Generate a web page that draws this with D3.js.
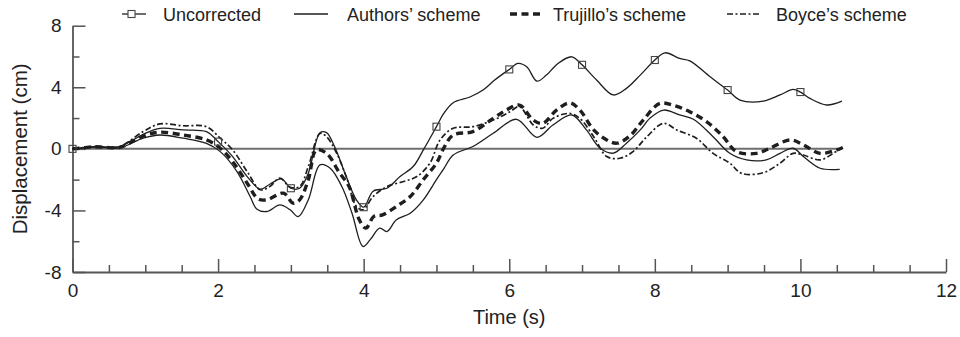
<!DOCTYPE html>
<html>
<head>
<meta charset="utf-8">
<script src="https://cdn.jsdelivr.net/npm/d3@7"></script>
<style>
  html, body { margin: 0; padding: 0; background: #fff; }
  svg { display: block; font-family: "Liberation Sans", Arial, Helvetica, sans-serif; }
</style>
</head>
<body>
<svg id="chart" width="960" height="337"></svg>
<script>
// Displacement time histories: [time (s), displacement (cm)]
const uncorrected = [
  [0,0],[0.15,0.08],[0.3,0.15],[0.45,0.12],[0.65,0.15],[0.8,0.5],[1.0,1.0],[1.2,1.33],[1.52,1.23],
  [1.84,1.12],[2.0,0.47],[2.2,-0.5],[2.4,-1.8],[2.58,-2.62],[2.71,-2.3],[2.87,-1.95],[3.0,-2.56],
  [3.12,-2.56],[3.24,-1.58],[3.4,1.05],[3.49,1.05],[3.6,0.15],[3.76,-1.8],[3.9,-3.31],[4.0,-3.79],
  [4.13,-2.75],[4.32,-2.56],[4.5,-1.8],[4.68,-1.15],[4.82,-0.07],[5.0,1.44],[5.1,2.3],[5.23,3.0],
  [5.46,3.37],[5.64,3.82],[5.8,4.47],[6.0,5.16],[6.12,5.55],[6.24,5.33],[6.38,4.4],[6.51,4.79],
  [6.67,5.55],[6.86,5.98],[7.0,5.46],[7.2,4.47],[7.43,3.5],[7.61,3.93],[7.8,4.79],[8.0,5.77],
  [8.14,6.24],[8.34,5.87],[8.48,5.72],[8.76,4.68],[9.0,3.82],[9.17,3.17],[9.49,3.1],[9.72,3.5],
  [9.9,3.86],[10.0,3.69],[10.13,3.28],[10.36,2.85],[10.57,3.1]
];
const authors = [
  [0,0],[0.15,0.06],[0.3,0.12],[0.45,0.08],[0.65,0.06],[0.97,0.69],[1.2,0.9],[1.52,0.69],[1.84,0.36],
  [2.03,-0.18],[2.26,-1.48],[2.44,-3.1],[2.53,-3.9],[2.67,-4.07],[2.85,-3.64],[2.99,-3.96],[3.1,-4.4],
  [3.24,-3.3],[3.4,-1.04],[3.54,-1.26],[3.7,-2.45],[3.84,-4.18],[3.99,-6.34],[4.09,-5.9],[4.22,-5.15],
  [4.32,-5.37],[4.45,-4.61],[4.64,-4.18],[4.82,-3.31],[5.0,-2.0],[5.1,-1.3],[5.23,-0.4],[5.5,0.15],
  [5.78,1.01],[6.1,1.92],[6.38,0.75],[6.6,1.55],[6.86,2.2],[7.06,1.23],[7.25,0.04],[7.43,-0.28],
  [7.61,0.37],[7.8,1.23],[7.93,1.98],[8.12,2.52],[8.34,2.2],[8.53,1.92],[8.8,0.79],[9.03,-0.29],
  [9.26,-0.72],[9.53,-0.72],[9.72,-0.29],[9.9,0.04],[10.04,-0.5],[10.27,-1.26],[10.54,-1.33]
];
const trujillo = [
  [0,0],[0.15,0.07],[0.3,0.14],[0.45,0.1],[0.65,0.1],[0.97,0.83],[1.2,1.08],[1.52,0.9],[1.84,0.58],
  [2.03,0.04],[2.2,-0.83],[2.4,-2.23],[2.55,-3.25],[2.67,-3.31],[2.9,-2.88],[3.03,-3.53],[3.12,-3.31],
  [3.24,-2.0],[3.35,-0.07],[3.49,-0.29],[3.67,-1.58],[3.8,-2.45],[3.94,-4.61],[4.03,-5.15],[4.14,-4.39],
  [4.26,-4.29],[4.45,-3.74],[4.64,-3.1],[4.82,-2.0],[5.0,-0.93],[5.1,0.05],[5.23,0.9],[5.5,1.12],
  [5.78,1.98],[5.96,2.52],[6.14,2.84],[6.33,1.87],[6.46,1.66],[6.65,2.52],[6.83,2.99],[6.97,2.52],
  [7.16,1.23],[7.34,0.58],[7.48,0.37],[7.66,0.85],[7.84,1.87],[8.07,2.95],[8.25,2.84],[8.48,2.41],
  [8.71,1.77],[8.94,0.79],[9.12,-0.18],[9.4,-0.29],[9.58,0.04],[9.86,0.58],[10.04,0.26],[10.27,-0.29],
  [10.5,-0.07],[10.59,0.1]
];
const boyce = [
  [0,0],[0.15,0.08],[0.3,0.15],[0.45,0.12],[0.65,0.15],[0.97,1.12],[1.2,1.62],[1.52,1.5],[1.84,1.44],
  [2.03,0.69],[2.2,-0.07],[2.4,-1.48],[2.58,-2.66],[2.71,-2.45],[2.85,-1.9],[2.99,-2.49],[3.12,-2.45],
  [3.24,-1.15],[3.4,1.0],[3.49,0.79],[3.63,-0.29],[3.76,-1.8],[3.9,-3.74],[3.99,-3.96],[4.13,-3.1],
  [4.32,-2.45],[4.55,-2.12],[4.73,-1.8],[4.91,-0.93],[5.05,0.58],[5.23,1.34],[5.5,1.44],[5.78,1.87],
  [6.01,2.41],[6.14,2.74],[6.33,1.55],[6.46,1.34],[6.6,1.98],[6.83,2.3],[6.97,1.98],[7.16,0.79],
  [7.34,-0.5],[7.52,-0.61],[7.7,-0.18],[7.89,0.79],[8.12,1.66],[8.3,1.23],[8.57,0.69],[8.8,-0.29],
  [9.03,-0.93],[9.19,-1.59],[9.49,-1.55],[9.72,-0.93],[9.9,-0.29],[10.04,-0.4],[10.27,-0.72],
  [10.45,-0.29],[10.56,0.04]
];
// Marker times on the uncorrected record
const markerTimes = [0,2,3,4,5,6,7,8,9,10];

const xMajorTicks = [0,2,4,6,8,10,12];
const yMajorTicks = [-8,-4,0,4,8];
const seriesNames = ["Uncorrected", "Authors\u2019 scheme", "Trujillo\u2019s scheme", "Boyce\u2019s scheme"];
const xTitle = "Time (s)";
const yTitle = "Displacement (cm)";

const svg = d3.select("#chart");
const x = d3.scaleLinear().domain([0, 12]).range([72.5, 946]);
const y = d3.scaleLinear().domain([-8, 8]).range([272, 25.7]);

const ink = "#1e1e1e";
const axisColor = "#555";
const plainNumber = d => String(d);

// zero reference line across the record length
const tEnd = d3.max(uncorrected, d => d[0]);
svg.append("line")
  .attr("x1", x(0)).attr("x2", x(tEnd))
  .attr("y1", y(0)).attr("y2", y(0))
  .attr("stroke", "#6e6e6e").attr("stroke-width", 2);

// axes with inward ticks
const xMinor = d3.range(0, 12.01, 0.5).filter(v => v % 2 !== 0);
const yMinor = d3.range(-8, 8.01, 2).filter(v => v % 4 !== 0);

function styleAxis(g) {
  g.select(".domain").attr("stroke", axisColor).attr("stroke-width", 1.8);
  g.selectAll(".tick line").attr("stroke", axisColor).attr("stroke-width", 1.5);
  g.selectAll(".tick text").attr("fill", "#222").style("font-size", "19px")
    .style("font-family", "'Liberation Sans', Arial, sans-serif");
}

svg.append("g").attr("transform", `translate(0,${y(-8)})`)
  .call(d3.axisBottom(x).tickValues(xMinor).tickSize(-7).tickSizeOuter(0).tickFormat(""))
  .call(g => g.select(".domain").remove())
  .call(styleAxis);
svg.append("g").attr("transform", `translate(0,${y(-8)})`)
  .call(d3.axisBottom(x).tickValues(xMajorTicks).tickSize(-13).tickSizeOuter(0).tickPadding(11).tickFormat(plainNumber))
  .call(styleAxis)
  .call(g => g.selectAll(".tick text").attr("dy", "0.75em"));

svg.append("g").attr("transform", `translate(${x(0)},0)`)
  .call(d3.axisLeft(y).tickValues(yMinor).tickSize(-7).tickSizeOuter(0).tickFormat(""))
  .call(g => g.select(".domain").remove())
  .call(styleAxis);
svg.append("g").attr("transform", `translate(${x(0)},0)`)
  .call(d3.axisLeft(y).tickValues(yMajorTicks).tickSize(-13).tickSizeOuter(0).tickPadding(11).tickFormat(plainNumber))
  .call(styleAxis);

// axis titles
svg.append("text").attr("x", (x(0) + x(12)) / 2).attr("y", 324)
  .attr("text-anchor", "middle").attr("fill", "#222").style("font-size", "20px").text(xTitle);
svg.append("text").attr("transform", `translate(27,${y(0)}) rotate(-90)`)
  .attr("text-anchor", "middle").attr("fill", "#222").style("font-size", "20.5px").text(yTitle);

// curves
const line = d3.line().x(d => x(d[0])).y(d => y(d[1])).curve(d3.curveCatmullRom.alpha(0.5));
const styles = [
  { data: uncorrected, width: 1.3, dash: null },
  { data: authors, width: 1.3, dash: null },
  { data: trujillo, width: 3.4, dash: "7,4.5" },
  { data: boyce, width: 1.7, dash: "6,2.5,2,2.5" }
];
styles.forEach(s => {
  svg.append("path").datum(s.data).attr("d", line)
    .attr("fill", "none").attr("stroke", ink).attr("stroke-width", s.width)
    .attr("stroke-dasharray", s.dash).attr("stroke-linejoin", "round");
});

// square markers on the uncorrected record
const interp = t => {
  const i = d3.bisector(d => d[0]).left(uncorrected, t);
  if (i <= 0) return uncorrected[0][1];
  const a = uncorrected[i - 1], b = uncorrected[i];
  if (b[0] === t) return b[1];
  return a[1] + (b[1] - a[1]) * (t - a[0]) / (b[0] - a[0]);
};
svg.append("g").selectAll("rect").data(markerTimes).join("rect")
  .attr("x", t => x(t) - 3.5).attr("y", t => y(interp(t)) - 3.5)
  .attr("width", 7).attr("height", 7)
  .attr("fill", "none").attr("stroke", "#444").attr("stroke-width", 1.1);

// legend
const legendY = 14;
const legendItems = [
  { x0: 122, x1: 146, mx: 131.5, tx: 163, style: styles[0], marker: true },
  { x0: 294, x1: 328, tx: 347, style: styles[1] },
  { x0: 510, x1: 544, tx: 553, style: styles[2] },
  { x0: 727, x1: 760, tx: 776, style: styles[3] }
];
const lg = svg.append("g");
legendItems.forEach((it, i) => {
  lg.append("line").attr("x1", it.x0).attr("x2", it.x1).attr("y1", legendY).attr("y2", legendY)
    .attr("stroke", ink).attr("stroke-width", it.style.width).attr("stroke-dasharray", it.style.dash);
  if (it.marker) {
    lg.append("rect").attr("x", it.mx - 3.5).attr("y", legendY - 3.5)
      .attr("width", 7).attr("height", 7).attr("fill", "#fff").attr("stroke", "#444").attr("stroke-width", 1.1);
  }
  lg.append("text").attr("x", it.tx).attr("y", legendY + 6.5).attr("fill", "#222")
    .style("font-size", "18px").text(seriesNames[i]);
});
</script>
</body>
</html>
